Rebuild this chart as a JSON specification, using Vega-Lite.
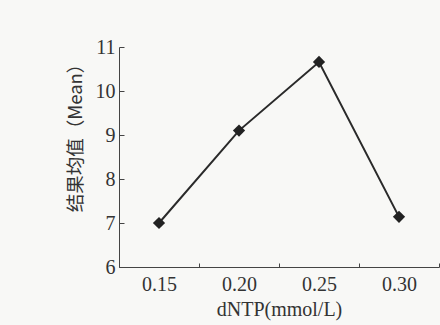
{
  "$schema": "https://vega.github.io/schema/vega-lite/v6.json",
  "width": 320,
  "height": 220,
  "autosize": {"type": "none"},
  "padding": {"left": 119, "top": 47, "right": 1, "bottom": 58},
  "background": "#f8f8f6",
  "config": {
    "view": {"stroke": null},
    "font": "Liberation Serif"
  },
  "data": {
    "values": [
      {"dntp": "0.15", "mean": 7.0},
      {"dntp": "0.20", "mean": 9.1},
      {"dntp": "0.25", "mean": 10.66},
      {"dntp": "0.30", "mean": 7.14}
    ]
  },
  "encoding": {
    "x": {
      "field": "dntp",
      "type": "ordinal",
      "scale": {"type": "band", "paddingInner": 0, "paddingOuter": 0},
      "axis": {
        "title": "dNTP(mmol/L)",
        "labelAngle": 0,
        "tickBand": "extent",
        "tickSize": -4,
        "tickColor": "#444",
        "domainColor": "#444",
        "labelFont": "Liberation Serif",
        "labelFontSize": 20,
        "labelColor": "#333",
        "labelPadding": 11,
        "titleFont": "Liberation Serif",
        "titleFontSize": 20,
        "titleFontWeight": "normal",
        "titleColor": "#333",
        "titlePadding": 5
      }
    },
    "y": {
      "field": "mean",
      "type": "quantitative",
      "scale": {"domain": [6, 11], "nice": false},
      "axis": {
        "title": "结果均值（Mean）",
        "values": [6, 7, 8, 9, 10, 11],
        "grid": false,
        "tickSize": -5,
        "tickColor": "#444",
        "domainColor": "#444",
        "labelFont": "Liberation Serif",
        "labelFontSize": 20,
        "labelColor": "#333",
        "labelPadding": 9,
        "titleFont": "Noto Sans CJK SC",
        "titleFontSize": 18.5,
        "titleFontWeight": "normal",
        "titleColor": "#333",
        "titlePadding": 10,
        "titleY": 86
      }
    }
  },
  "layer": [
    {"mark": {"type": "line", "color": "#2a2a2a", "strokeWidth": 2}},
    {"mark": {"type": "point", "shape": "diamond", "filled": true, "size": 150, "color": "#222", "opacity": 1}}
  ]
}
